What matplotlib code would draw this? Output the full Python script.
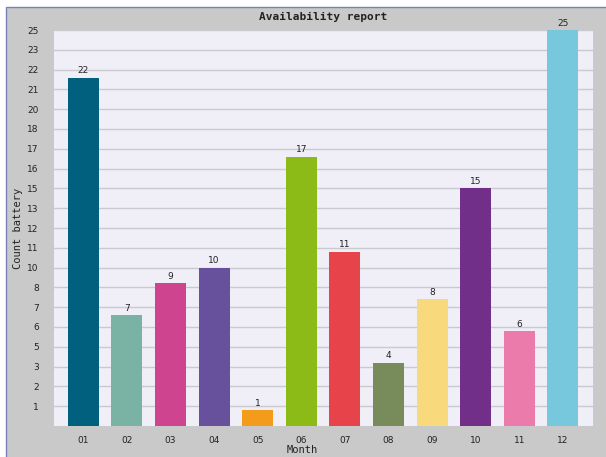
import numpy as np
import matplotlib
matplotlib.use("Agg")
import matplotlib.pyplot as plt
from matplotlib.patches import Rectangle
from matplotlib.ticker import FixedLocator, FuncFormatter

months = ["01", "02", "03", "04", "05", "06", "07", "08", "09", "10", "11", "12"]
counts = [22, 7, 9, 10, 1, 17, 11, 4, 8, 15, 6, 25]
colors = ["#02607f", "#7ab3a3", "#cf448f", "#67519c", "#f49b1b", "#8cbb18",
          "#e6434a", "#778b5b", "#f8d97c", "#712f89", "#ea7baa", "#77c8dc"]

W, H = 606, 457
fig = plt.figure(figsize=(W / 100, H / 100), dpi=100, facecolor="white")

# gray panel with a thin blue frame on the top and left
panel = Rectangle((6 / W, -0.05), 1.2, 1 - 7 / H + 0.05, transform=fig.transFigure,
                  facecolor="#c9c9c9", edgecolor="#7683b6", linewidth=1.0, zorder=0)
fig.add_artist(panel)

ax = fig.add_axes([54 / W, 1 - 426 / H, (593 - 54) / W, (426 - 30) / H])
ax.set_facecolor("#f0eff7")

x = np.arange(len(months))
ax.bar(x, counts, width=0.71, color=colors, zorder=3)

ymax = 25
ax.set_ylim(0, ymax)
ax.set_xlim(-0.67, len(months) - 1 + 0.69)

yt = np.linspace(0, ymax, 21)[1:]
ax.yaxis.set_major_locator(FixedLocator(yt))
ax.yaxis.set_major_formatter(FuncFormatter(lambda v, p: str(int(v + 1e-9))))
ax.grid(axis="y", color="#c9c9d0", linewidth=1.0, zorder=1)

ax.set_xticks(x)
ax.set_xticklabels(months)
ax.tick_params(axis="both", length=0, labelsize=6.5, colors="#222222")
ax.tick_params(axis="x", pad=7)
ax.tick_params(axis="y", pad=11)

for s in ax.spines.values():
    s.set_visible(False)

for xi, v in zip(x, counts):
    ax.text(xi, v + 0.15, str(v), ha="center", va="bottom", fontsize=6.5, color="#222222", zorder=4)

mono = "DejaVu Sans Mono"
ax.set_xlabel("Month", fontsize=7.5, family=mono, color="#222222")
ax.set_ylabel("Count battery", fontsize=7.5, family=mono, color="#222222")
ax.xaxis.set_label_coords((302 - 54) / (593 - 54), -(450 - 426) / (426 - 30))
ax.yaxis.set_label_coords(-(54 - 18) / (593 - 54), 0.5)
ax.xaxis.label.set_va("center")
ax.yaxis.label.set_va("center")
fig.text((54 + 593) / 2 / W, 1 - 17 / H, "Availability report", ha="center", va="center",
         fontsize=8, family=mono, fontweight="bold", color="#222222")

fig.savefig("out.png", dpi=100, facecolor=fig.get_facecolor())
